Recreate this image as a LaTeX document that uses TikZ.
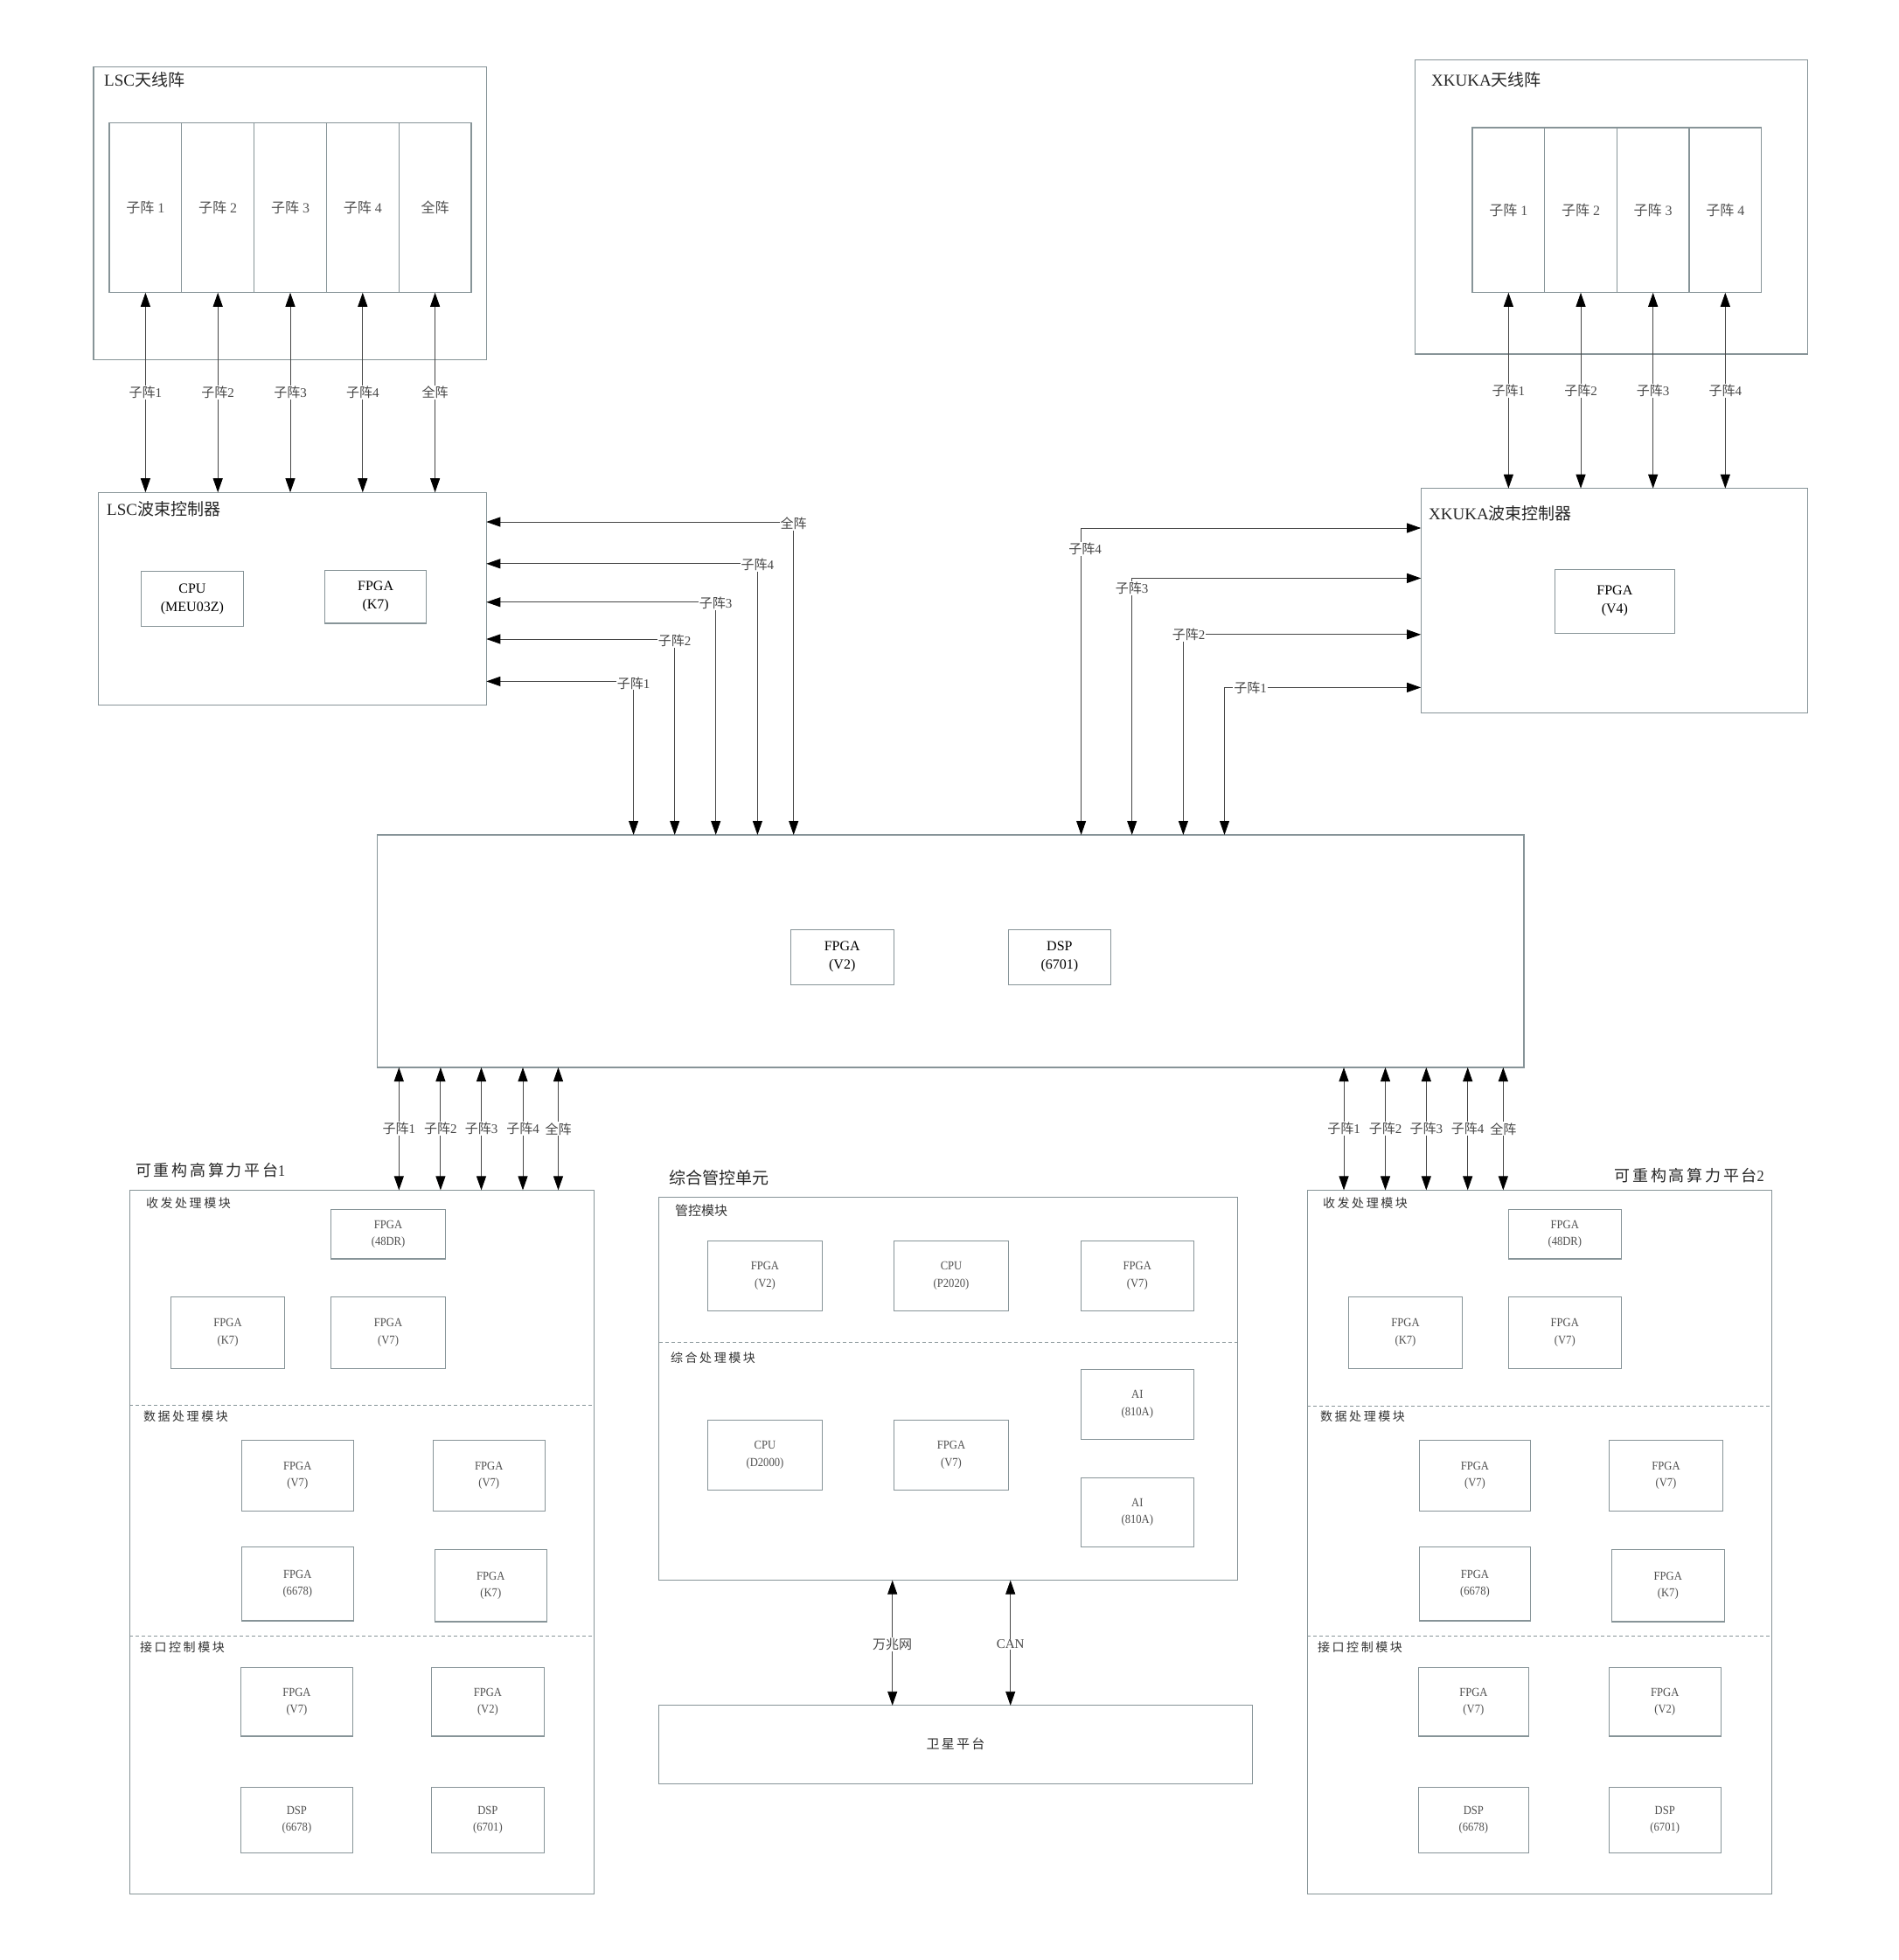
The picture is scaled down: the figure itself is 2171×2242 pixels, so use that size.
\documentclass[tikz,border=0pt]{standalone}
\usepackage{fontspec}
\setmainfont{Liberation Serif}
\newfontfamily\cjk{Noto Sans CJK SC}
\newfontfamily\cjkw[LetterSpace=15]{Noto Sans CJK SC}
\newfontfamily\cjks[LetterSpace=18]{Noto Sans CJK SC}
\newfontfamily\latw[FakeStretch=0.9]{Liberation Serif}
\usetikzlibrary{arrows.meta,calc}
\definecolor{boxc}{RGB}{135,148,152}
\definecolor{linec}{RGB}{70,70,70}
\definecolor{txtg}{RGB}{80,80,80}
\newcommand\zh[1]{{\cjk #1}}
\newcommand\mybox[7]{%
  \pgfmathsetmacro\bcx{(#3+#5)/2}%
  \pgfmathsetmacro\bcy{(#4+#6)/2}%
  \pgfmathsetmacro\bww{#5-#3}%
  \pgfmathsetmacro\bhh{#6-#4}%
  \node[#1,minimum width=\bww pt,minimum height=\bhh pt] (#2) at (\bcx,\bcy) {#7};}
\tikzset{
  box/.style={draw=boxc,line width=1.2pt,inner sep=0pt,outer sep=0pt,align=center},
  chip/.style={box,font=\fontsize{16}{21}\selectfont},
  colbox/.style={box,font=\fontsize{16}{20}\selectfont,text=txtg},
  pchip/.style={box,text=txtg,font=\latw\fontsize{14}{19.5}\selectfont},
  lab/.style={fill=white,inner sep=1pt,font=\fontsize{15}{15}\selectfont,text=linec},
  tip/.tip={Triangle[length=16pt,width=11pt,fill=black,color=black]},
  link/.style={draw=linec,line width=0.9pt,tip-tip},
  secline/.style={draw=boxc,line width=1pt,dash pattern=on 4pt off 3pt},
  ttl/.style={anchor=west,inner sep=0pt,font=\fontsize{19}{19}\selectfont,text=black!85},
  ptitle/.style={inner sep=0pt,font=\cjkw\fontsize{18}{18}\selectfont,text=black!85},
  sect/.style={anchor=west,inner sep=0pt,font=\cjks\fontsize{14}{14}\selectfont,text=black!80},
}
\begin{document}
\begin{tikzpicture}[x=1pt,y=-1pt]
\fill[white] (0,0) rectangle (2171,2242);
\useasboundingbox (0,0) rectangle (2171,2242);

% ---------- LSC antenna ----------
\mybox{box}{lsca}{107}{76.5}{556.3}{411.4}{}
\node[ttl] (lscat) at (119,91) {LSC\zh{天线阵}};
\mybox{colbox}{la1}{125}{140.3}{207.8}{334.8}{\zh{子阵} 1}
\mybox{colbox}{la2}{207.8}{140.3}{290.6}{334.8}{\zh{子阵} 2}
\mybox{colbox}{la3}{290.6}{140.3}{373.4}{334.8}{\zh{子阵} 3}
\mybox{colbox}{la4}{373.4}{140.3}{456.2}{334.8}{\zh{子阵} 4}
\mybox{colbox}{la5}{456.2}{140.3}{539}{334.8}{\zh{全阵}}

% ---------- LSC beam controller ----------
\mybox{box}{lscc}{112.2}{563.2}{556.3}{806.8}{}
\node[ttl] (lscct) at (122,582) {LSC\zh{波束控制器}};
\mybox{chip}{lcpu}{161.3}{653.7}{278.5}{716.3}{CPU\\(MEU03Z)}
\mybox{chip}{lfpga}{371.8}{652.5}{487.5}{713}{FPGA\\(K7)}

\draw[link] (la1.south) -- (la1.south |- lscc.north) node[midway,lab] {\zh{子阵}1};
\draw[link] (la2.south) -- (la2.south |- lscc.north) node[midway,lab] {\zh{子阵}2};
\draw[link] (la3.south) -- (la3.south |- lscc.north) node[midway,lab] {\zh{子阵}3};
\draw[link] (la4.south) -- (la4.south |- lscc.north) node[midway,lab] {\zh{子阵}4};
\draw[link] (la5.south) -- (la5.south |- lscc.north) node[midway,lab] {\zh{全阵}};

% ---------- XKUKA antenna ----------
\mybox{box}{xka}{1618.4}{68.9}{2067.2}{405}{}
\node[ttl] (xkat) at (1637,91) {XKUKA\zh{天线阵}};
\mybox{colbox}{xa1}{1684}{146}{1766.7}{334.8}{\zh{子阵} 1}
\mybox{colbox}{xa2}{1766.7}{146}{1849.3}{334.8}{\zh{子阵} 2}
\mybox{colbox}{xa3}{1849.3}{146}{1932}{334.8}{\zh{子阵} 3}
\mybox{colbox}{xa4}{1932}{146}{2014.6}{334.8}{\zh{子阵} 4}

% ---------- XKUKA beam controller ----------
\mybox{box}{xkc}{1625.2}{558.7}{2067.2}{815.1}{}
\node[ttl] (xkct) at (1634,587) {XKUKA\zh{波束控制器}};
\mybox{chip}{xfpga}{1778.2}{651.2}{1915.5}{724.5}{FPGA\\(V4)}

\draw[link] (xa1.south) -- (xa1.south |- xkc.north) node[midway,lab] {\zh{子阵}1};
\draw[link] (xa2.south) -- (xa2.south |- xkc.north) node[midway,lab] {\zh{子阵}2};
\draw[link] (xa3.south) -- (xa3.south |- xkc.north) node[midway,lab] {\zh{子阵}3};
\draw[link] (xa4.south) -- (xa4.south |- xkc.north) node[midway,lab] {\zh{子阵}4};

% ---------- central processor ----------
\mybox{box}{cbox}{431.5}{955}{1743}{1221}{}
\mybox{chip}{cfpga}{904.3}{1063.3}{1022.2}{1126.3}{FPGA\\(V2)}
\mybox{chip}{cdsp}{1153.4}{1063.3}{1270.4}{1126.3}{DSP\\(6701)}

% LSC routed links
\coordinate (k1) at (724.6,779.4);
\coordinate (k2) at (771.7,731);
\coordinate (k3) at (818.7,688.8);
\coordinate (k4) at (866.4,644.8);
\coordinate (k5) at (907.7,597);
\draw[link] (lscc.east |- k1) -- (k1) -- (k1 |- cbox.north);
\draw[link] (lscc.east |- k2) -- (k2) -- (k2 |- cbox.north);
\draw[link] (lscc.east |- k3) -- (k3) -- (k3 |- cbox.north);
\draw[link] (lscc.east |- k4) -- (k4) -- (k4 |- cbox.north);
\draw[link] (lscc.east |- k5) -- (k5) -- (k5 |- cbox.north);
\node[lab] (kl1) at ($(k1)+(0,2)$) {\zh{子阵}1};
\node[lab] (kl2) at ($(k2)+(0,2)$) {\zh{子阵}2};
\node[lab] (kl3) at ($(k3)+(0,1)$) {\zh{子阵}3};
\node[lab] (kl4) at ($(k4)+(0,1)$) {\zh{子阵}4};
\node[lab] (kl5) at ($(k5)+(0,2)$) {\zh{全阵}};

% XKUKA routed links
\coordinate (q4) at (1236.6,604);
\coordinate (q3) at (1294.7,661.4);
\coordinate (q2) at (1353.4,725.8);
\coordinate (q1) at (1400.5,786.4);
\draw[link] (xkc.west |- q4) -- (q4) -- (q4 |- cbox.north);
\draw[link] (xkc.west |- q3) -- (q3) -- (q3 |- cbox.north);
\draw[link] (xkc.west |- q2) -- (q2) -- (q2 |- cbox.north);
\draw[link] (xkc.west |- q1) -- (q1) -- (q1 |- cbox.north);
\node[lab] (ql4) at (1241,627.6) {\zh{子阵}4};
\node[lab] (ql3) at (1294.7,673) {\zh{子阵}3};
\node[lab] (ql2) at (1359.5,725.8) {\zh{子阵}2};
\node[lab] (ql1) at (1430,786.4) {\zh{子阵}1};

% ---------- platform 1 ----------
\mybox{box}{p1}{148.2}{1361.4}{679.8}{2166.7}{}
\node[ptitle,anchor=west] (p1t) at (155,1339) {可重构高算力平台{\latw 1}};
\draw[secline] (p1.west |- 0,1607) -- (p1.east |- 0,1607);
\draw[secline] (p1.west |- 0,1871) -- (p1.east |- 0,1871);
\node[sect] (p1s1) at (167,1376) {收发处理模块};
\node[sect] (p1s2) at (164,1620) {数据处理模块};
\node[sect] (p1s3) at (160,1884) {接口控制模块};
\mybox{pchip}{p1a}{378.6}{1383.2}{509.5}{1440}{FPGA\\(48DR)}
\mybox{pchip}{p1b}{195.3}{1483.7}{325.8}{1565.2}{FPGA\\(K7)}
\mybox{pchip}{p1c}{378.6}{1483.7}{509.5}{1565.2}{FPGA\\(V7)}
\mybox{pchip}{p1d}{276.4}{1647.3}{404.2}{1728.8}{FPGA\\(V7)}
\mybox{pchip}{p1e}{495.3}{1647.3}{623.2}{1728.8}{FPGA\\(V7)}
\mybox{pchip}{p1f}{276.4}{1769.5}{404.2}{1853.9}{FPGA\\(6678)}
\mybox{pchip}{p1g}{497.2}{1772.4}{625.4}{1855}{FPGA\\(K7)}
\mybox{pchip}{p1h}{275.3}{1907.3}{403.5}{1986}{FPGA\\(V7)}
\mybox{pchip}{p1i}{493.4}{1907.3}{622.4}{1986}{FPGA\\(V2)}
\mybox{pchip}{p1j}{275.3}{2044.5}{403.5}{2119.1}{DSP\\(6678)}
\mybox{pchip}{p1k}{493.4}{2044.5}{622.4}{2119.1}{DSP\\(6701)}

\draw[link] (cbox.south -| 456.3,0) -- (p1.north -| 456.3,0) node[midway,lab] {\zh{子阵}1};
\draw[link] (cbox.south -| 503.9,0) -- (p1.north -| 503.9,0) node[midway,lab] {\zh{子阵}2};
\draw[link] (cbox.south -| 550.5,0) -- (p1.north -| 550.5,0) node[midway,lab] {\zh{子阵}3};
\draw[link] (cbox.south -| 598,0) -- (p1.north -| 598,0) node[midway,lab] {\zh{子阵}4};
\draw[link] (cbox.south -| 638.5,0) -- (p1.north -| 638.5,0) node[midway,lab] {\zh{全阵}};

% ---------- platform 2 ----------
\mybox{box}{p2}{1495.4}{1361.4}{2026.4}{2166.7}{}
\node[ptitle,anchor=east] (p2t) at (2018,1345) {可重构高算力平台{\latw 2}};
\draw[secline] (p2.west |- 0,1608) -- (p2.east |- 0,1608);
\draw[secline] (p2.west |- 0,1871) -- (p2.east |- 0,1871);
\node[sect] (p2s1) at (1513,1376) {收发处理模块};
\node[sect] (p2s2) at (1510,1620) {数据处理模块};
\node[sect] (p2s3) at (1507,1884) {接口控制模块};
\mybox{pchip}{p2a}{1725.3}{1383.2}{1854.3}{1440}{FPGA\\(48DR)}
\mybox{pchip}{p2b}{1542.5}{1483.7}{1672.5}{1565.2}{FPGA\\(K7)}
\mybox{pchip}{p2c}{1725.3}{1483.7}{1854.3}{1565.2}{FPGA\\(V7)}
\mybox{pchip}{p2d}{1623.2}{1647.3}{1750.7}{1728.8}{FPGA\\(V7)}
\mybox{pchip}{p2e}{1840.3}{1647.3}{1970.7}{1728.8}{FPGA\\(V7)}
\mybox{pchip}{p2f}{1623.2}{1769.5}{1750.7}{1853.9}{FPGA\\(6678)}
\mybox{pchip}{p2g}{1843.2}{1772.4}{1972.4}{1855}{FPGA\\(K7)}
\mybox{pchip}{p2h}{1622.5}{1907.3}{1748.2}{1986}{FPGA\\(V7)}
\mybox{pchip}{p2i}{1840.3}{1907.3}{1968.2}{1986}{FPGA\\(V2)}
\mybox{pchip}{p2j}{1622.5}{2044.5}{1748.2}{2119.1}{DSP\\(6678)}
\mybox{pchip}{p2k}{1840.3}{2044.5}{1968.2}{2119.1}{DSP\\(6701)}

\draw[link] (cbox.south -| 1537,0) -- (p2.north -| 1537,0) node[midway,lab] {\zh{子阵}1};
\draw[link] (cbox.south -| 1584.5,0) -- (p2.north -| 1584.5,0) node[midway,lab] {\zh{子阵}2};
\draw[link] (cbox.south -| 1631.3,0) -- (p2.north -| 1631.3,0) node[midway,lab] {\zh{子阵}3};
\draw[link] (cbox.south -| 1678.7,0) -- (p2.north -| 1678.7,0) node[midway,lab] {\zh{子阵}4};
\draw[link] (cbox.south -| 1719.3,0) -- (p2.north -| 1719.3,0) node[midway,lab] {\zh{全阵}};

% ---------- integrated control unit ----------
\mybox{box}{mu}{753.6}{1369.5}{1415.6}{1807.6}{}
\node[ttl,font=\cjk\fontsize{19}{19}\selectfont] (mut) at (765,1347) {综合管控单元};
\draw[secline] (mu.west |- 0,1535.3) -- (mu.east |- 0,1535.3);
\node[sect,font=\cjk\fontsize{15}{15}\selectfont] (mus1) at (772,1385) {管控模块};
\node[sect] (mus2) at (767,1553) {综合处理模块};
\mybox{pchip}{ma}{809.3}{1419.5}{940.6}{1499.4}{FPGA\\(V2)}
\mybox{pchip}{mb}{1022.6}{1419.5}{1153.4}{1499.4}{CPU\\(P2020)}
\mybox{pchip}{mc}{1236.3}{1419.5}{1365.3}{1499.4}{FPGA\\(V7)}
\mybox{pchip}{md}{1236.3}{1566.5}{1365.3}{1646.4}{AI\\(810A)}
\mybox{pchip}{me}{1236.3}{1690.5}{1365.3}{1769.5}{AI\\(810A)}
\mybox{pchip}{mf}{809.3}{1624.3}{940.6}{1704.2}{CPU\\(D2000)}
\mybox{pchip}{mg}{1022.6}{1624.3}{1153.4}{1704.2}{FPGA\\(V7)}

% ---------- satellite platform ----------
\mybox{box}{sat}{753.6}{1950.8}{1432.3}{2040.4}{}
\node[inner sep=0pt,font=\cjkw\fontsize{15}{15}\selectfont,text=black!80] (satt) at (1093,1995) {卫星平台};
\draw[link] (mu.south -| 1020.7,0) -- (sat.north -| 1020.7,0) node[midway,lab,yshift=-1.5pt] {\zh{万兆网}};
\draw[link] (mu.south -| 1155.7,0) -- (sat.north -| 1155.7,0) node[midway,lab,yshift=-1.5pt] {CAN};
\end{tikzpicture}
\end{document}
